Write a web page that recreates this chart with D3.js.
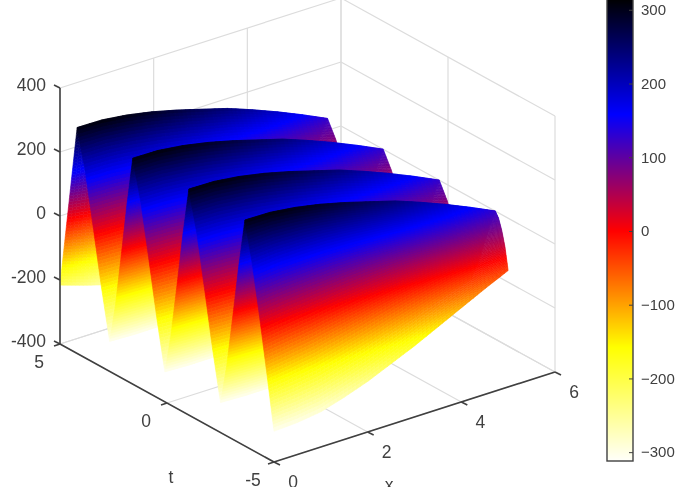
<!DOCTYPE html>
<html>
<head>
<meta charset="utf-8">
<script src="https://cdn.jsdelivr.net/npm/d3@7"></script>
<style>
body { margin: 0; background: #fff; }
text { font-family: "Liberation Sans", Arial, sans-serif; fill: #404040; }
</style>
</head>
<body>
<div id="chart"></div>
<script>
// values
var xValues = [0, 0.5, 1, 1.5, 2, 2.5, 3, 3.5, 4, 4.5, 5];
var crestT = [4.2, 1.6, -1.02, -3.64];              // ridge tops at x = 0, back to front
var troughT = [2.68, 0.1, -2.5];                    // valleys at x = 0, back to front
var crestDrift = [0, -0.07, -0.15, -0.22, -0.3, -0.38, -0.46, -0.53, -0.61, -0.68, -0.76];
var crestZ = [306, 309, 304, 293, 278, 260, 242, 217, 190, 160, 128];
var troughZ = [-306, -305, -300, -290, -275, -258, -240, -215, -188, -158, -125];
var frontEdgeZ = [-304, -300, -290, -268, -242, -210, -178, -142, -106, -70, -36];
var rearEdgeZ = [-216, -240, -262, -280, -295, -305, -300, -285, -260, -230, -190];
var slopeT = [0, 0.25, 0.5, 0.75, 1];
var slopeZ = [1, 0.8, 0.53, 0.25, 0];
var frontSlopeNear = [1, 0.8, 0.55, 0.28, 0];       // front face at x = 0
var frontSlopeFar = [1, 0.9, 0.7, 0.42, 0];         // front face at x = 5

var colorStops = [-315, -158, 0, 158, 315];
var colorRange = ["#ffffff", "#ffff00", "#ff0000", "#0000ff", "#000000"];

var xTicks = [0, 2, 4, 6];
var tTicks = [-5, 0, 5];
var zTicks = [-400, -200, 0, 200, 400];
var barTicks = [-300, -200, -100, 0, 100, 200, 300];

var width = 685, height = 501;

var svg = d3.select("#chart").append("svg")
    .attr("width", width)
    .attr("height", height)
    .style("display", "block");

// the reference is a soft jpeg
var page = svg.append("g").style("filter", "blur(0.45px)");

// fixed view, so each data axis is just an offset on screen
var origin = {x: 274, y: 462};
var xToX = d3.scaleLinear().domain([0, 6]).range([0, 281]);
var xToY = d3.scaleLinear().domain([0, 6]).range([0, -90]);
var tToX = d3.scaleLinear().domain([-5, 5]).range([0, -214]);
var tToY = d3.scaleLinear().domain([-5, 5]).range([0, -118]);
var zToY = d3.scaleLinear().domain([-400, 400]).range([0, -256]);

function project(x, t, z) {
    return [origin.x + xToX(x) + tToX(t), origin.y + xToY(x) + tToY(t) + zToY(z)];
}

var color = d3.scaleLinear().domain(colorStops).range(colorRange).clamp(true);

var line = d3.line();

// grid
var grid = page.append("g")
    .attr("fill", "none")
    .attr("stroke", "#dcdcdc")
    .attr("stroke-width", 1.2);

function gridLine(a, b) {
    grid.append("path").attr("d", line([project(a[0], a[1], a[2]), project(b[0], b[1], b[2])]));
}

zTicks.forEach(function(z) {
    gridLine([0, 5, z], [6, 5, z]);
    gridLine([6, 5, z], [6, -5, z]);
});
xTicks.forEach(function(x) {
    gridLine([x, 5, -400], [x, 5, 400]);
    gridLine([x, 5, -400], [x, -5, -400]);
});
tTicks.forEach(function(t) {
    gridLine([6, t, -400], [6, t, 400]);
    gridLine([0, t, -400], [6, t, -400]);
});

// surface
var crestDriftAt = d3.scaleLinear().domain(xValues).range(crestDrift);
var crestZAt = d3.scaleLinear().domain(xValues).range(crestZ);
var troughZAt = d3.scaleLinear().domain(xValues).range(troughZ);
var frontEdgeAt = d3.scaleLinear().domain(xValues).range(frontEdgeZ);
var rearEdgeAt = d3.scaleLinear().domain(xValues).range(rearEdgeZ);

// knots of one cross section, from t = 5 to t = -5
function section(x) {
    var drift = crestDriftAt(x), top = crestZAt(x), low = troughZAt(x);
    var knots = [{t: 5, z: rearEdgeAt(x)}];
    crestT.forEach(function(c, i) {
        var ct = c + drift;
        knots.push({t: ct, z: top});
        if (i < troughT.length) {
            var vt = troughT[i] + drift;
            slopeT.slice(1).forEach(function(f, j) {
                knots.push({t: ct + (vt - ct) * f, z: low + (top - low) * slopeZ[j + 1]});
            });
            var nt = crestT[i + 1] + drift;
            slopeT.slice(1, -1).forEach(function(f, j) {
                knots.push({t: vt + (nt - vt) * f, z: low + (top - low) * (1 - slopeZ[j + 1])});
            });
        } else {
            var edge = frontEdgeAt(x);
            slopeT.slice(1).forEach(function(f, j) {
                var share = d3.scaleLinear().domain([0, 5]).range([frontSlopeNear[j + 1], frontSlopeFar[j + 1]])(x);
                knots.push({t: ct + (-5 - ct) * f, z: edge + (top - edge) * share});
            });
        }
    });
    return knots;
}

var columns = d3.range(0, 60.5).map(function(i) { return i / 12; });

// finer rows where the first section is steeper, so the colour stays smooth
var firstKnots = section(0);
var rowCounts = d3.pairs(firstKnots).map(function(p) {
    return Math.ceil(Math.abs(p[1].z - p[0].z) / 10);
});

var sections = columns.map(function(x) {
    var knots = section(x), rows = [];
    rowCounts.forEach(function(sub, k) {
        for (var s = 0; s < sub; s++) {
            rows.push({
                x: x,
                t: knots[k].t + (knots[k + 1].t - knots[k].t) * s / sub,
                z: knots[k].z + (knots[k + 1].z - knots[k].z) * s / sub
            });
        }
    });
    rows.push({x: x, t: knots[knots.length - 1].t, z: knots[knots.length - 1].z});
    return rows;
});

// back to front, so nearer cells paint over farther ones
var cells = [];
for (var r = 0; r < sections[0].length - 1; r++) {
    for (var c = sections.length - 2; c >= 0; c--) {
        var a = sections[c][r], b = sections[c + 1][r],
            d = sections[c + 1][r + 1], e = sections[c][r + 1];
        cells.push({corners: [a, b, d, e], z: (a.z + b.z + d.z + e.z) / 4});
    }
}

page.append("g").selectAll("path")
    .data(cells)
    .join("path")
    .attr("d", function(q) {
        return line(q.corners.map(function(p) { return project(p.x, p.t, p.z); })) + "Z";
    })
    .attr("fill", function(q) { return color(q.z); })
    .attr("stroke", function(q) { return color(q.z); })
    .attr("stroke-width", 0.6);

// axes
var axes = page.append("g")
    .attr("fill", "none")
    .attr("stroke", "#404040")
    .attr("stroke-width", 1.6);

axes.append("path").attr("d", line([project(0, 5, -400), project(0, 5, 400)]));
axes.append("path").attr("d", line([project(0, 5, -400), project(0, -5, -400)]));
axes.append("path").attr("d", line([project(0, -5, -400), project(6, -5, -400)]));

var labels = page.append("g").attr("font-size", 17.5);

zTicks.forEach(function(z) {
    var p = project(0, 5, z);
    axes.append("path").attr("d", line([p, [p[0] - 6, p[1] - 3]]));
    labels.append("text").attr("x", 46).attr("y", p[1] - 3)
        .attr("text-anchor", "end").attr("dominant-baseline", "central").text(z);
});
tTicks.forEach(function(t) {
    var p = project(0, t, -400);
    axes.append("path").attr("d", line([p, [p[0] - 6, p[1] + 2]]));
    labels.append("text").attr("x", p[0] - 21).attr("y", p[1] + 18)
        .attr("text-anchor", "middle").attr("dominant-baseline", "central").text(t);
});
xTicks.forEach(function(x) {
    var p = project(x, -5, -400);
    axes.append("path").attr("d", line([p, [p[0] + 6, p[1] + 3]]));
    labels.append("text").attr("x", p[0] + 19).attr("y", p[1] + 20)
        .attr("text-anchor", "middle").attr("dominant-baseline", "central").text(x);
});

labels.append("text").attr("x", 171).attr("y", 477).attr("text-anchor", "middle")
    .attr("dominant-baseline", "central").text("t");
labels.append("text").attr("x", 389).attr("y", 485).attr("text-anchor", "middle")
    .attr("dominant-baseline", "central").text("x");

// colorbar
var bar = {left: 607, right: 633, top: -2, bottom: 461};
var barY = d3.scaleLinear().domain([-312, 316]).range([bar.bottom, bar.top]);

page.append("g").selectAll("rect")
    .data(d3.range(bar.top, bar.bottom))
    .join("rect")
    .attr("x", bar.left)
    .attr("y", function(y) { return y; })
    .attr("width", bar.right - bar.left)
    .attr("height", 1.5)
    .attr("fill", function(y) { return color(barY.invert(y + 0.5)); });

page.append("rect")
    .attr("x", bar.left)
    .attr("y", bar.top)
    .attr("width", bar.right - bar.left)
    .attr("height", bar.bottom - bar.top)
    .attr("fill", "none")
    .attr("stroke", "#404040")
    .attr("stroke-width", 1.4);

var barAxis = page.append("g")
    .attr("transform", "translate(" + bar.right + ",0)")
    .call(d3.axisRight(barY).tickValues(barTicks).tickSize(-4).tickPadding(8));
barAxis.select(".domain").remove();
barAxis.selectAll("line").attr("stroke", "#404040");
barAxis.selectAll("text").attr("font-size", 15).attr("font-family", '"Liberation Sans", Arial, sans-serif').attr("fill", "#404040");

// the picture stops short of the window bottom
svg.append("rect").attr("x", 0).attr("y", 487).attr("width", width).attr("height", height - 487).attr("fill", "#fff");
</script>
</body>
</html>
